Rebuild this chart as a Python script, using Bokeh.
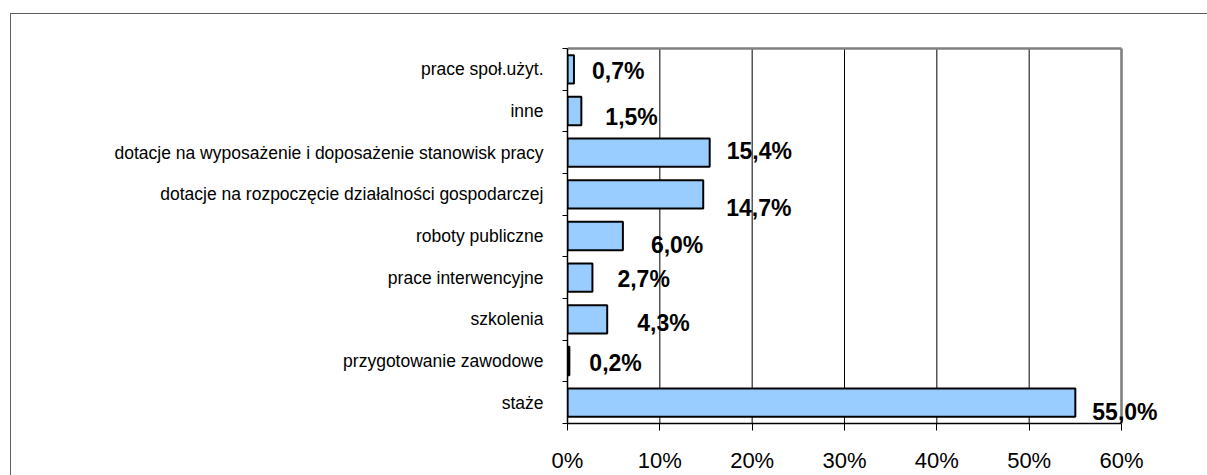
from bokeh.plotting import figure
from bokeh.models import (ColumnDataSource, Range1d, FixedTicker, LinearAxis,
                          LabelSet, InlineStyleSheet)
from bokeh.core.properties import value
from bokeh.embed import file_html
from bokeh.resources import INLINE

# ---- data (bottom to top) ----
categories = [
    "staże",
    "przygotowanie zawodowe",
    "szkolenia",
    "prace interwencyjne",
    "roboty publiczne",
    "dotacje na rozpoczęcie działalności gospodarczej",
    "dotacje na wyposażenie i doposażenie stanowisk pracy",
    "inne",
    "prace społ.użyt.",
]
values = [55.0, 0.2, 4.3, 2.7, 6.0, 14.7, 15.4, 1.5, 0.7]
x_ticks = [0, 10, 20, 30, 40, 50, 60]
x_tick_labels = ["0%", "10%", "20%", "30%", "40%", "50%", "60%"]

# label placement tweaks (pixels): gap after bar end, shift downwards
label_dx = [17, 20, 30, 25, 28, 23, 17, 24, 18]
label_dy = [9, 2, 4, 1, 9, 14, -2, 6, 2]

FONT = "Liberation Sans"
W, H = 1207, 475
# plot-area box in pixels
PL, PR, PT, PB = 567, 1121, 48, 424
n = len(categories)
xmax = x_ticks[-1]
centers = [i + 0.5 for i in range(n)]
texts = [f"{v:.1f}".replace(".", ",") + "%" for v in values]

px_per_x = (PR - PL) / xmax
px_per_y = (PB - PT) / n
top_pad = 8  # extra pixels above the plot area so its border is not clipped
x_end = xmax + (W - PR) / px_per_x
y_end = n + top_pad / px_per_y

src = ColumnDataSource(dict(y=centers, v=values, t=texts,
                            dx=label_dx, dy=[-d for d in label_dy]))

css = InlineStyleSheet(css="""
:host { position: relative; }
:host::after {
  content: ""; position: absolute; left: 10px; top: 13px; right: 0; bottom: 0;
  border-left: 1.5px solid #606060; border-top: 1.5px solid #606060;
  pointer-events: none;
}
""")

p = figure(width=W, height=H, output_backend="svg", toolbar_location=None,
           x_range=Range1d(0, x_end), y_range=Range1d(0, y_end),
           min_border_left=PL, min_border_right=0,
           min_border_top=PT - top_pad, min_border_bottom=H - PB,
           x_axis_type=None, y_axis_type=None, stylesheets=[css])
p.background_fill_color = "white"
p.border_fill_color = "white"
p.outline_line_color = None
p.xgrid.visible = False
p.ygrid.visible = False

xaxis = LinearAxis(ticker=FixedTicker(ticks=x_ticks), bounds=(0, xmax))
xaxis.major_label_overrides = dict(zip(x_ticks, x_tick_labels))
xaxis.axis_line_color = "black"
xaxis.axis_line_width = 1.5
xaxis.major_tick_line_color = "black"
xaxis.major_tick_line_width = 1
xaxis.major_tick_out = 7
xaxis.major_tick_in = 0
xaxis.minor_tick_line_color = None
xaxis.major_label_text_font = FONT
xaxis.major_label_text_font_size = "22px"
xaxis.major_label_text_color = "black"
xaxis.major_label_standoff = 17
p.add_layout(xaxis, "below")

yaxis = LinearAxis(ticker=FixedTicker(ticks=centers, minor_ticks=list(range(n + 1))),
                   bounds=(0, n))
yaxis.major_label_overrides = {c: cat for c, cat in zip(centers, categories)}
yaxis.axis_line_color = "black"
yaxis.axis_line_width = 1.5
yaxis.major_tick_line_color = None
yaxis.major_tick_out = 0
yaxis.major_tick_in = 0
yaxis.minor_tick_line_color = "black"
yaxis.minor_tick_line_width = 1
yaxis.minor_tick_out = 5
yaxis.minor_tick_in = 0
yaxis.major_label_text_font = FONT
yaxis.major_label_text_font_size = "17.5px"
yaxis.major_label_text_color = "black"
yaxis.major_label_standoff = 19
p.add_layout(yaxis, "left")

# vertical grid lines (inside plot area only)
grid_x = x_ticks[1:-1]
p.segment(x0=grid_x, y0=[0] * len(grid_x), x1=grid_x, y1=[n] * len(grid_x),
          line_color="black", line_width=1)
# plot-area border (top and right), grey
p.segment(x0=[0, xmax], y0=[n, 0], x1=[xmax, xmax], y1=[n, n],
          line_color="#808080", line_width=2.6)

p.hbar(y="y", right="v", left=0, height=0.68, source=src,
       fill_color="#99CCFF", line_color="black", line_width=2)

labels = LabelSet(x="v", y="y", text="t", source=src, x_offset="dx", y_offset="dy",
                  text_font=value(FONT), text_font_style="bold",
                  text_font_size="23px", text_color="black",
                  text_align="left", text_baseline="middle")
p.add_layout(labels)

open("out.html", "w").write(file_html(p, INLINE))
